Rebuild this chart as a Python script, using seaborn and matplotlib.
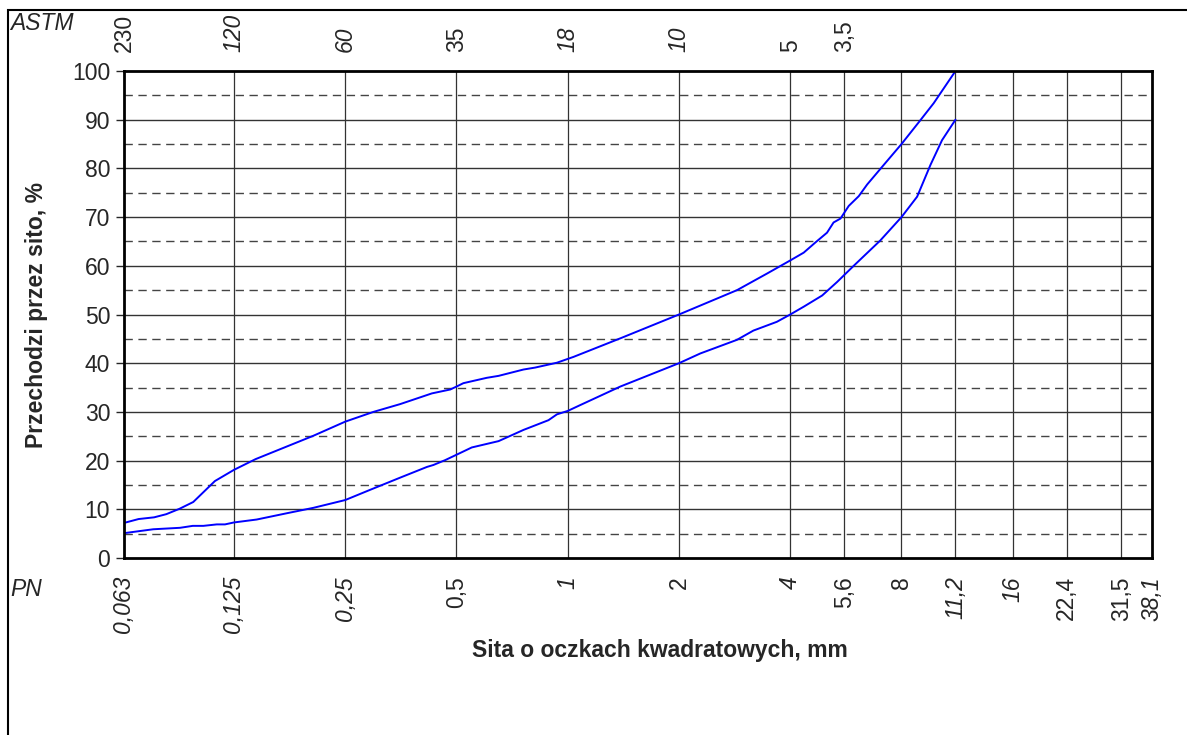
import numpy as np
import pandas as pd
import matplotlib
matplotlib.use("Agg")
import matplotlib.pyplot as plt
import seaborn as sns
from matplotlib.patches import Rectangle

# sieve sizes (PN, mm) and matching ASTM mesh numbers
pn_sieves = [0.063, 0.125, 0.25, 0.5, 1, 2, 4, 5.6, 8, 11.2, 16, 22.4, 31.5, 38.1]
pn_labels = ["0,063", "0,125", "0,25", "0,5", "1", "2", "4", "5,6", "8", "11,2", "16", "22,4", "31,5", "38,1"]
pn_italic = [True, True, True, False, True, False, True, False, False, True, True, False, False, True]
astm_labels = ["230", "120", "60", "35", "18", "10", "5", "3,5"]
astm_italic = [False, True, True, False, True, True, False, False]

# upper grading limit
upper_mm = [0.063, 0.069, 0.076, 0.082, 0.089, 0.097, 0.111, 0.125, 0.143, 0.205, 0.25, 0.298,
            0.352, 0.429, 0.481, 0.5, 0.522, 0.604, 0.65, 0.759, 0.816, 0.935, 1.037, 1.387,
            2.0, 2.871, 3.46, 4.0, 4.35, 4.68, 5.03, 5.24, 5.47, 5.76, 6.13, 6.46, 7.16,
            8.0, 9.0, 9.78, 11.2]
upper_pct = [7.2, 8.0, 8.35, 9.0, 10.1, 11.5, 15.8, 18.1, 20.3, 25.1, 28.0, 30.0,
             31.6, 33.8, 34.6, 35.2, 35.9, 37.0, 37.4, 38.7, 39.1, 40.1, 41.3, 45.1,
             50.0, 55.0, 58.4, 61.1, 62.7, 64.8, 66.8, 68.9, 69.7, 72.3, 74.3, 76.7, 80.7,
             85.0, 89.9, 93.4, 100]

# lower grading limit
lower_mm = [0.063, 0.0756, 0.0893, 0.0967, 0.1033, 0.1123, 0.1182, 0.125, 0.144, 0.174,
            0.205, 0.25, 0.292, 0.352, 0.416, 0.433, 0.466, 0.5, 0.55, 0.65, 0.759, 0.887,
            0.935, 1.0, 1.081, 1.387, 2.0, 2.284, 2.871, 3.18, 3.68, 4.0, 4.35, 4.88, 5.36,
            5.94, 7.01, 8.0, 8.82, 9.58, 10.3, 11.2]
lower_pct = [5.1, 5.9, 6.2, 6.6, 6.6, 6.9, 6.9, 7.3, 7.9, 9.2,
             10.3, 11.9, 14.0, 16.5, 18.7, 19.1, 20.1, 21.2, 22.7, 24.0, 26.3, 28.3,
             29.5, 30.2, 31.4, 35.2, 40.0, 42.0, 44.8, 46.7, 48.5, 50.0, 51.6, 53.9, 56.7,
             60.0, 65.2, 70.0, 74.2, 80.7, 85.8, 90.0]

df = pd.concat([
    pd.DataFrame({"mm": upper_mm, "pct": upper_pct, "krzywa": "gorna"}),
    pd.DataFrame({"mm": lower_mm, "pct": lower_pct, "krzywa": "dolna"}),
])

sns.set_style("white")
plt.rcParams["font.family"] = ["Liberation Sans", "DejaVu Sans"]

fig = plt.figure(figsize=(11.87, 7.35), dpi=100)
ax = fig.add_axes([124 / 1187, 177 / 735, 1028 / 1187, 487 / 735])

sns.lineplot(data=df, x="mm", y="pct", units="krzywa", estimator=None, sort=False,
             color="#0000ff", lw=1.4, ax=ax)

ax.set_xscale("log", base=2)
ax.set_xlim(0.063, 38.1)
ax.set_ylim(0, 100)

# grid: solid every 10, dashed every 5
for v in range(10, 100, 10):
    ax.axhline(v, color="#333333", lw=1, zorder=0)
for v in range(5, 100, 10):
    ax.axhline(v, color="#444444", lw=1, ls=(0, (6, 4)), zorder=0)
for s in pn_sieves[1:-1]:
    ax.axvline(s, color="#333333", lw=0.9, zorder=0)

ax.set_yticks(range(0, 101, 10))
ax.tick_params(axis="y", direction="out", length=6, width=1, labelsize=16.5, pad=4, left=True)
ax.set_xticks(pn_sieves)
ax.set_xticklabels(pn_labels, rotation=90, va="top")
ax.minorticks_off()
ax.tick_params(axis="x", length=0, labelsize=16.5, pad=13)
for lab, it in zip(ax.get_xticklabels(), pn_italic):
    lab.set_fontstyle("italic" if it else "normal")

sec = ax.secondary_xaxis("top")
sec.set_xticks(pn_sieves[:len(astm_labels)])
sec.set_xticklabels(astm_labels, rotation=90, va="bottom")
sec.minorticks_off()
sec.tick_params(axis="x", length=0, labelsize=16.5, pad=14)
for lab, it in zip(sec.get_xticklabels(), astm_italic):
    lab.set_fontstyle("italic" if it else "normal")
sec.spines["top"].set_visible(False)

for sp in ax.spines.values():
    sp.set_visible(True)
    sp.set_color("black")
    sp.set_linewidth(2)

ax.set_xlabel("Sita o oczkach kwadratowych, mm", fontsize=16.5, fontweight="bold")
ax.set_ylabel("Przechodzi przez sito, %", fontsize=16.5, fontweight="bold")
ax.xaxis.set_label_coords((660 - 124) / 1028, -(650 - 558) / 487)
ax.yaxis.set_label_coords(-(124 - 37) / 1028, 0.5)
ax.xaxis.label.set_va("center")
ax.yaxis.label.set_va("center")

fig.text(10 / 1187, 1 - 24 / 735, "ASTM", fontsize=16.5, style="italic", va="center")
fig.text(10 / 1187, 1 - 590 / 735, "PN", fontsize=16.5, style="italic", va="center")

fig.add_artist(Rectangle((8 / 1187, -0.05), 1.1, 1.05 - 10 / 735, transform=fig.transFigure,
                         fill=False, lw=1.5, edgecolor="black"))

fig.savefig("out.png", dpi=100)
